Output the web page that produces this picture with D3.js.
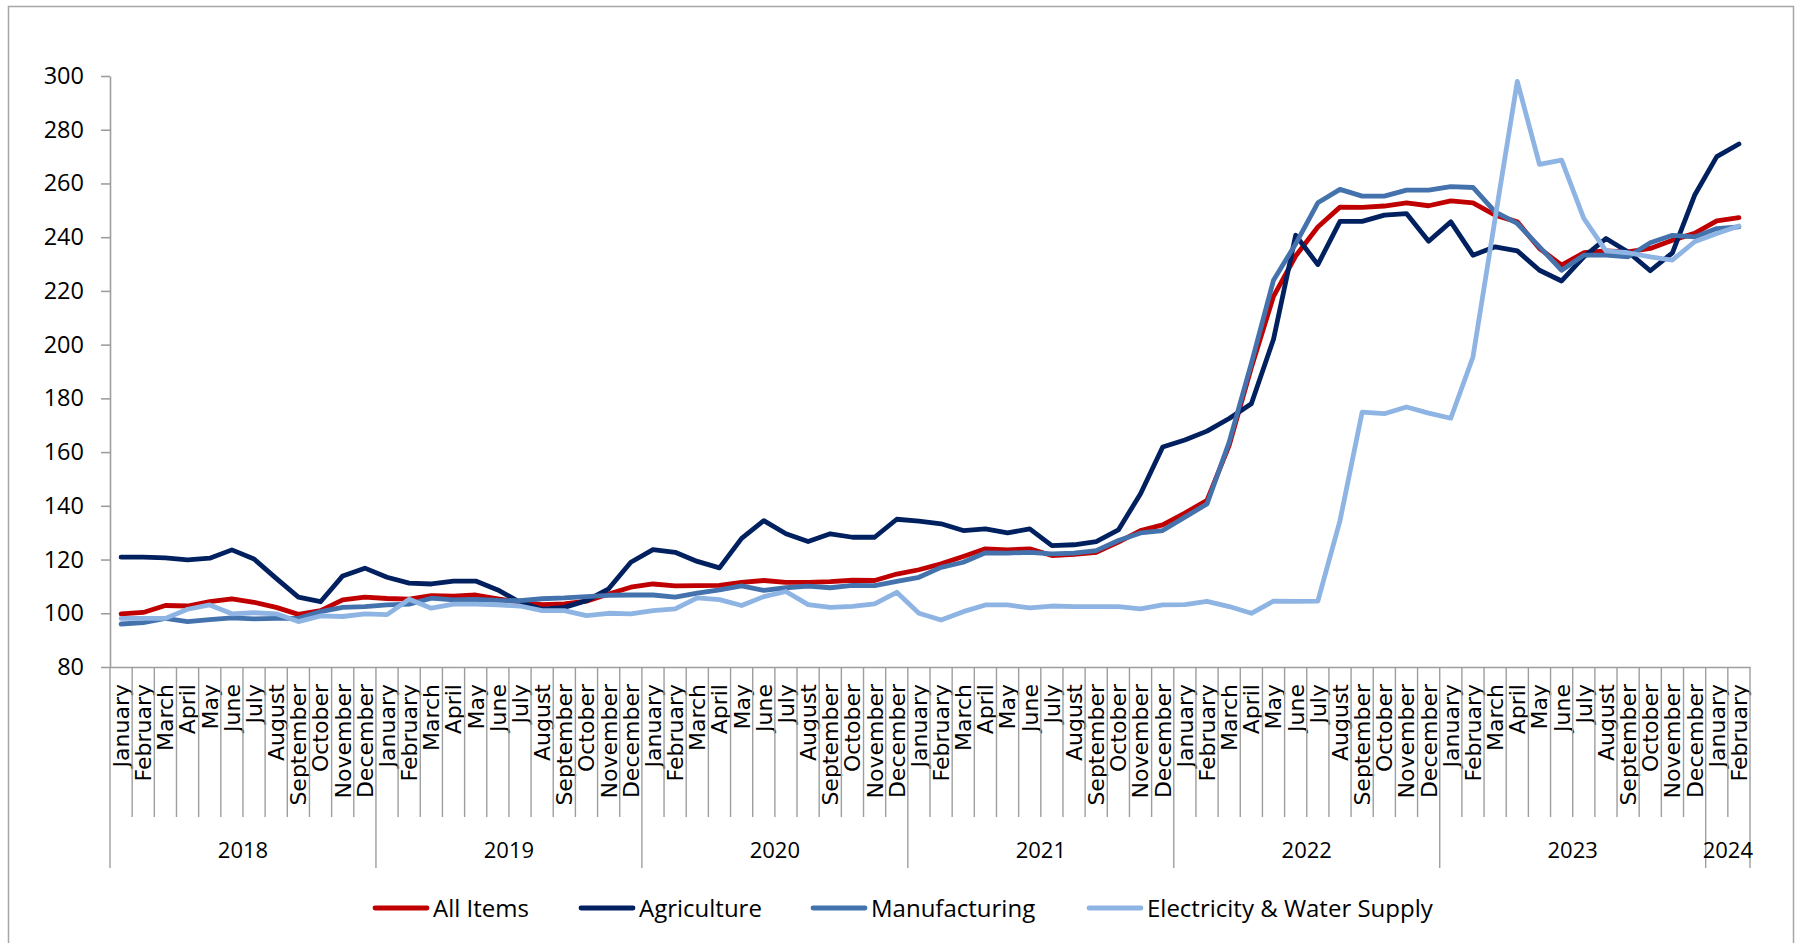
<!DOCTYPE html>
<html>
<head>
<meta charset="utf-8">
<script src="https://cdn.jsdelivr.net/npm/d3@7"></script>
<style>
  html, body { margin: 0; padding: 0; background: #ffffff; }
  svg { display: block; }
</style>
</head>
<body>
<svg id="chart" width="1803" height="943"></svg>
<script>
// ---- Data -------------------------------------------------------------
const monthNames = ["January", "February", "March", "April", "May", "June",
  "July", "August", "September", "October", "November", "December"];
const years = ["2018", "2019", "2020", "2021", "2022", "2023", "2024"];
const monthsPerYear = [12, 12, 12, 12, 12, 12, 2];

const allItems = [
  99.8, 100.3, 102.9, 102.7, 104.3, 105.4, 104.1, 102.2, 99.6, 101.0, 105.0, 106.0,
  105.5, 105.3, 106.6, 106.4, 106.8, 105.4, 104.1, 103.2, 103.5, 104.5, 107.2, 109.7,
  110.9, 110.2, 110.3, 110.4, 111.5, 112.2, 111.5, 111.5, 111.8, 112.3, 112.2, 114.6,
  116.2, 118.4, 121.1, 124.0, 123.6, 124.0, 121.5, 121.9, 122.7, 126.5, 130.8, 132.9,
  137.3, 142.0, 162.5, 191.5, 218.0, 233.0, 243.8, 251.2, 251.1, 251.6, 252.8, 251.7,
  253.5, 252.8, 248.2, 245.7, 235.8, 229.6, 234.2, 234.9, 234.5, 235.8, 238.9, 241.4,
  246.1, 247.3
];
const agriculture = [
  120.9, 120.9, 120.6, 119.9, 120.5, 123.6, 120.2, 113.0, 106.0, 104.3, 113.9, 116.8,
  113.4, 111.2, 110.9, 112.0, 112.0, 108.7, 104.1, 101.5, 102.2, 104.7, 109.1, 119.0,
  123.7, 122.7, 119.3, 116.9, 127.9, 134.5, 129.6, 126.7, 129.6, 128.3, 128.3, 135.0,
  134.3, 133.3, 130.8, 131.4, 129.9, 131.4, 125.2, 125.5, 126.7, 131.0, 144.5, 161.9,
  164.5, 167.8, 172.5, 178.0, 202.0, 240.7, 229.8, 245.9, 245.9, 248.2, 248.8, 238.5,
  245.7, 233.3, 236.4, 234.9, 227.7, 223.7, 232.7, 239.5, 234.5, 227.5, 234.2, 255.6,
  270.0, 274.7
];
const manufacturing = [
  96.0, 96.5, 98.1, 96.9, 97.6, 98.3, 97.9, 98.1, 98.1, 100.6, 102.2, 102.5,
  103.1, 103.4, 105.6, 105.0, 105.2, 104.8, 104.7, 105.4, 105.7, 106.2, 106.7, 106.8,
  106.8, 106.0, 107.5, 108.7, 110.2, 108.5, 109.5, 110.1, 109.5, 110.4, 110.3, 111.9,
  113.4, 117.1, 119.0, 122.5, 122.4, 122.7, 122.1, 122.4, 123.3, 127.1, 129.9, 130.8,
  135.8, 140.7, 163.7, 193.0, 224.0, 237.5, 252.8, 257.8, 255.3, 255.3, 257.5, 257.5,
  258.8, 258.5, 249.4, 245.1, 236.4, 227.7, 233.3, 233.3, 232.7, 237.9, 240.7, 240.1,
  243.2, 243.8
];
const electricityWater = [
  98.1, 98.1, 98.1, 101.5, 103.1, 99.8, 100.2, 99.8, 96.9, 99.0, 98.8, 99.8,
  99.5, 105.2, 101.9, 103.4, 103.4, 103.1, 102.7, 101.0, 101.0, 99.1, 100.0, 99.8,
  101.0, 101.6, 105.7, 105.1, 102.9, 106.2, 108.1, 103.2, 102.2, 102.6, 103.5, 107.8,
  100.0, 97.5, 100.6, 103.1, 103.1, 102.0, 102.7, 102.5, 102.5, 102.5, 101.6, 103.1,
  103.2, 104.4, 102.5, 100.0, 104.5, 104.4, 104.5, 134.5, 174.9, 174.3, 176.8, 174.5,
  172.6, 195.4, 247.0, 298.0, 267.1, 268.7, 247.0, 234.9, 234.2, 232.7, 231.5, 238.3,
  241.4, 244.2
];
const yTicks = [80, 100, 120, 140, 160, 180, 200, 220, 240, 260, 280, 300];

const seriesNames = ["All Items", "Agriculture", "Manufacturing", "Electricity & Water Supply"];
const seriesValues = [allItems, agriculture, manufacturing, electricityWater];
const seriesColors = ["#C00000", "#002060", "#4472AC", "#8EB4E3"];

// Month-by-month periods with their year group
const periods = [];
years.forEach((yr, yi) => {
  for (let m = 0; m < monthsPerYear[yi]; m++) periods.push({ year: yr, month: monthNames[m] });
});

// ---- Layout ------------------------------------------------------------
const svg = d3.select("#chart");
const plot = { left: 110, right: 1750, top: 76, bottom: 667 };
const axisColor = "#9E9E9E";
const labelFont = "'Open Sans', 'Noto Sans', sans-serif";
const monthFont = "'DejaVu Sans', Verdana, sans-serif";

// outer chart frame
svg.append("rect")
  .attr("x", 8.5).attr("y", 6.5)
  .attr("width", 1785).attr("height", 945)
  .attr("fill", "none")
  .attr("stroke", "#A6A6A6")
  .attr("stroke-width", 1.5);

const x = d3.scaleBand()
  .domain(d3.range(periods.length))
  .range([plot.left, plot.right])
  .paddingInner(0).paddingOuter(0);

const y = d3.scaleLinear()
  .domain([80, 300])
  .range([plot.bottom, plot.top]);

// ---- Y axis -----------------------------------------------------------
const yAxisG = svg.append("g")
  .attr("transform", `translate(${plot.left},0)`)
  .call(d3.axisLeft(y).tickValues(yTicks).tickSize(9).tickSizeOuter(0).tickPadding(17));
yAxisG.select(".domain").attr("stroke", axisColor).attr("stroke-width", 1.6);
yAxisG.selectAll(".tick line").attr("stroke", axisColor).attr("stroke-width", 1.6);
yAxisG.selectAll(".tick text")
  .attr("fill", "#000")
  .style("font-family", labelFont)
  .style("font-size", "23.5px");

// ---- X axis: month labels ----------------------------------------------
const xAxisG = svg.append("g")
  .attr("transform", `translate(0,${plot.bottom})`)
  .call(d3.axisBottom(x).tickSize(0).tickSizeOuter(0).tickFormat(i => periods[i].month));
xAxisG.select(".domain").attr("stroke", axisColor).attr("stroke-width", 1.6);
xAxisG.selectAll(".tick text")
  .attr("transform", "rotate(-90)")
  .attr("text-anchor", "end")
  .attr("x", -17)
  .attr("y", 0)
  .attr("dy", "0.36em")
  .attr("fill", "#000")
  .style("font-family", monthFont)
  .style("font-size", "22px");

// category separators: short ones between months, long ones between years
const boundaries = d3.range(periods.length + 1);
const yearStarts = new Set();
let acc = 0;
monthsPerYear.forEach(n => { yearStarts.add(acc); acc += n; });
yearStarts.add(acc);
const edgeX = i => (i < periods.length ? x(i) : x(periods.length - 1) + x.bandwidth());

svg.append("g").selectAll("line")
  .data(boundaries)
  .join("line")
  .attr("x1", i => edgeX(i)).attr("x2", i => edgeX(i))
  .attr("y1", plot.bottom)
  .attr("y2", i => (yearStarts.has(i) ? 868 : 817))
  .attr("stroke", axisColor)
  .attr("stroke-width", 1.4);

// year labels centred under each year group
const yearGroups = [];
acc = 0;
years.forEach((yr, yi) => {
  const first = acc, last = acc + monthsPerYear[yi] - 1;
  yearGroups.push({ year: yr, cx: (x(first) + x(last) + x.bandwidth()) / 2 });
  acc += monthsPerYear[yi];
});
svg.append("g").selectAll("text")
  .data(yearGroups)
  .join("text")
  .attr("x", d => d.cx)
  .attr("y", 858)
  .attr("text-anchor", "middle")
  .attr("fill", "#000")
  .style("font-family", labelFont)
  .style("font-size", "22px")
  .text(d => d.year);

// ---- Lines --------------------------------------------------------------
const line = d3.line()
  .x((d, i) => x(i) + x.bandwidth() / 2)
  .y(d => y(d));

svg.append("g").selectAll("path")
  .data(seriesValues)
  .join("path")
  .attr("d", d => line(d))
  .attr("fill", "none")
  .attr("stroke", (d, i) => seriesColors[i])
  .attr("stroke-width", 4.8)
  .attr("stroke-linejoin", "round")
  .attr("stroke-linecap", "round");

// ---- Legend -------------------------------------------------------------
const legendStarts = [375, 581, 813, 1089];
const legendY = 908;
const legend = svg.append("g").selectAll("g")
  .data(seriesNames)
  .join("g")
  .attr("transform", (d, i) => `translate(${legendStarts[i]},${legendY})`);
legend.append("line")
  .attr("x1", 0).attr("x2", 52)
  .attr("y1", 0).attr("y2", 0)
  .attr("stroke", (d, i) => seriesColors[i])
  .attr("stroke-width", 4.8)
  .attr("stroke-linecap", "round");
legend.append("text")
  .attr("x", 58)
  .attr("y", 0)
  .attr("dy", "0.36em")
  .attr("fill", "#000")
  .style("font-family", labelFont)
  .style("font-size", "24px")
  .text(d => d);
</script>
</body>
</html>
